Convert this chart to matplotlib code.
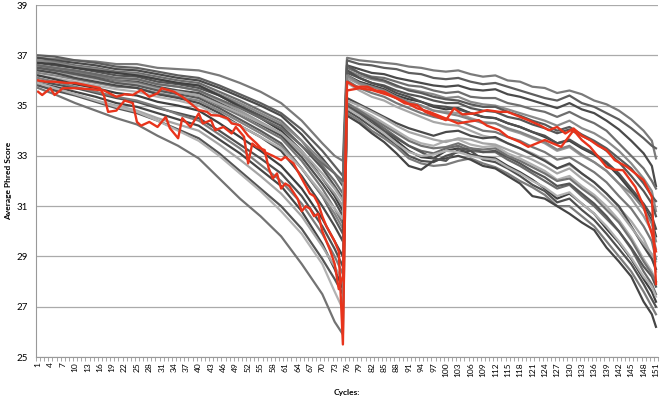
import matplotlib
matplotlib.use("Agg")
import matplotlib.pyplot as plt
import numpy as np

READ1_CYCLES = [1, 5, 10, 15, 20, 25, 30, 35, 40, 45, 50, 55, 60, 65, 70, 73, 75]
READ2_CYCLES = [76, 79, 82, 85, 88, 91, 94, 97, 100, 103, 106, 109, 112, 115, 118, 121, 124, 127,
                130, 133, 136, 139, 142, 145, 148, 150, 151]

# Average Phred score per run, read 1 (cycles 1-75)
GREY_READ1 = [
    [36.9, 36.85, 36.8, 36.75, 36.65, 36.65, 36.5, 36.45, 36.4, 36.2, 35.9, 35.55, 35.1, 34.4, 33.5, 33.0, 32.8],
    [37.0, 36.95, 36.8, 36.7, 36.55, 36.5, 36.35, 36.2, 36.1, 35.8, 35.45, 35.1, 34.7, 34.05, 33.2, 32.6, 32.2],
    [36.9, 36.8, 36.7, 36.6, 36.45, 36.4, 36.25, 36.1, 36.0, 35.7, 35.35, 35.0, 34.6, 33.85, 32.9, 32.3, 31.8],
    [36.8, 36.75, 36.6, 36.5, 36.35, 36.3, 36.15, 36.0, 35.9, 35.55, 35.2, 34.8, 34.4, 33.6, 32.6, 32.0, 31.5],
    [36.8, 36.7, 36.55, 36.45, 36.3, 36.25, 36.05, 35.9, 35.8, 35.45, 35.1, 34.7, 34.3, 33.6, 32.8, 32.3, 31.9],
    [36.7, 36.6, 36.5, 36.35, 36.2, 36.15, 35.95, 35.85, 35.7, 35.4, 35.0, 34.6, 34.2, 33.4, 32.5, 31.8, 31.3],
    [36.7, 36.65, 36.5, 36.4, 36.3, 36.2, 36.05, 35.9, 35.8, 35.4, 34.95, 34.5, 34.0, 33.2, 32.1, 31.4, 30.8],
    [36.6, 36.5, 36.4, 36.25, 36.1, 36.05, 35.85, 35.75, 35.6, 35.2, 34.8, 34.35, 33.9, 33.1, 32.1, 31.5, 31.0],
    [36.5, 36.4, 36.3, 36.15, 36.0, 35.95, 35.75, 35.6, 35.5, 35.1, 34.7, 34.25, 33.8, 32.95, 31.9, 31.2, 30.6],
    [36.6, 36.5, 36.35, 36.2, 36.0, 35.9, 35.7, 35.55, 35.4, 35.0, 34.6, 34.15, 33.7, 32.8, 31.7, 30.9, 30.3],
    [36.4, 36.3, 36.2, 36.05, 35.9, 35.85, 35.65, 35.55, 35.4, 35.05, 34.7, 34.3, 33.9, 33.2, 32.3, 31.7, 31.2],
    [36.5, 36.4, 36.25, 36.1, 35.9, 35.8, 35.6, 35.45, 35.3, 34.9, 34.45, 34.0, 33.5, 32.5, 31.4, 30.5, 29.9],
    [36.3, 36.2, 36.05, 35.9, 35.75, 35.7, 35.5, 35.35, 35.2, 34.8, 34.35, 33.9, 33.4, 32.5, 31.4, 30.7, 30.1],
    [36.4, 36.3, 36.1, 35.95, 35.8, 35.7, 35.45, 35.3, 35.1, 34.7, 34.2, 33.75, 33.2, 32.2, 31.0, 30.2, 29.6],
    [36.2, 36.1, 35.95, 35.8, 35.65, 35.55, 35.35, 35.2, 35.0, 34.6, 34.2, 33.75, 33.3, 32.5, 31.5, 30.9, 30.5],
    [36.6, 36.5, 36.4, 36.25, 36.1, 36.05, 35.85, 35.75, 35.6, 35.25, 34.9, 34.5, 34.1, 33.4, 32.7, 32.3, 32.0],
    [36.2, 36.05, 35.85, 35.7, 35.5, 35.4, 35.15, 35.0, 34.8, 34.3, 33.75, 33.2, 32.6, 31.7, 30.5, 29.6, 29.0],
    [36.0, 35.85, 35.7, 35.5, 35.3, 35.15, 34.9, 34.7, 34.5, 34.0, 33.45, 32.9, 32.3, 31.4, 30.2, 29.3, 28.6],
    [36.1, 35.95, 35.75, 35.55, 35.35, 35.2, 34.95, 34.65, 34.4, 33.85, 33.3, 32.65, 32.0, 31.1, 29.9, 29.0, 28.3],
    [35.9, 35.75, 35.55, 35.35, 35.1, 34.95, 34.7, 34.45, 34.2, 33.65, 33.1, 32.45, 31.8, 30.8, 29.5, 28.5, 27.7],
    [35.8, 35.65, 35.45, 35.2, 35.0, 34.8, 34.5, 34.25, 34.0, 33.45, 32.85, 32.2, 31.5, 30.6, 29.4, 28.6, 28.0],
    [35.8, 35.6, 35.4, 35.15, 34.9, 34.7, 34.4, 34.05, 33.7, 33.1, 32.4, 31.7, 31.0, 30.1, 28.9, 28.1, 27.5],
    [35.9, 35.7, 35.45, 35.2, 34.95, 34.75, 34.4, 34.0, 33.6, 33.0, 32.3, 31.6, 30.8, 29.9, 28.7, 27.6, 26.9],
    [35.7, 35.45, 35.1, 34.8, 34.5, 34.25, 33.8, 33.4, 32.9, 32.1, 31.3, 30.6, 29.8, 28.7, 27.5, 26.4, 25.9],
]

# Same runs, read 2 (cycles 76-151)
GREY_READ2 = [
    [36.9, 36.8, 36.75, 36.7, 36.65, 36.55, 36.5, 36.4, 36.35, 36.4, 36.25, 36.15, 36.2, 36.0, 35.95, 35.75, 35.7, 35.5, 35.6, 35.45, 35.2, 35.05, 34.8, 34.45, 34.0, 33.6, 32.9],
    [36.8, 36.65, 36.6, 36.5, 36.45, 36.3, 36.25, 36.1, 36.05, 36.1, 35.95, 35.85, 35.9, 35.75, 35.6, 35.45, 35.3, 35.2, 35.4, 35.1, 34.95, 34.7, 34.45, 34.1, 33.7, 33.4, 33.3],
    [36.6, 36.45, 36.3, 36.25, 36.1, 36.0, 35.9, 35.8, 35.75, 35.8, 35.65, 35.6, 35.65, 35.45, 35.35, 35.2, 35.05, 34.9, 35.1, 34.85, 34.7, 34.4, 34.05, 33.6, 33.1, 32.6, 31.8],
    [36.5, 36.3, 36.15, 36.1, 35.95, 35.8, 35.75, 35.6, 35.5, 35.55, 35.35, 35.3, 35.3, 35.1, 35.0, 34.85, 34.75, 34.55, 34.75, 34.5, 34.3, 34.0, 33.5, 33.0, 32.5, 32.0, 31.7],
    [36.4, 36.2, 36.05, 35.95, 35.75, 35.65, 35.55, 35.45, 35.3, 35.35, 35.15, 35.05, 35.0, 34.85, 34.7, 34.55, 34.4, 34.2, 34.4, 34.1, 33.9, 33.6, 33.2, 32.7, 32.1, 31.6, 30.8],
    [36.3, 36.1, 35.9, 35.8, 35.6, 35.45, 35.35, 35.2, 35.1, 35.1, 34.9, 34.8, 34.75, 34.55, 34.45, 34.25, 34.1, 33.9, 34.05, 33.8, 33.55, 33.2, 32.75, 32.2, 31.6, 31.1, 30.6],
    [36.2, 35.95, 35.8, 35.65, 35.4, 35.25, 35.15, 34.95, 34.85, 34.9, 34.7, 34.55, 34.5, 34.3, 34.15, 33.95, 33.75, 33.5, 33.6, 33.3, 33.05, 32.7, 32.2, 31.6, 31.0, 30.4, 29.8],
    [36.1, 35.85, 35.65, 35.5, 35.3, 35.15, 35.0, 34.8, 34.75, 34.7, 34.5, 34.35, 34.3, 34.05, 33.9, 33.7, 33.5, 33.2, 33.35, 33.0, 32.75, 32.4, 31.9, 31.3, 30.6, 30.0, 29.3],
    [36.4, 36.1, 35.9, 35.75, 35.5, 35.35, 35.15, 35.0, 34.95, 34.85, 34.7, 34.55, 34.5, 34.3, 34.15, 33.95, 33.8, 33.5, 33.65, 33.35, 33.1, 32.75, 32.3, 31.7, 31.1, 30.6, 30.1],
    [36.0, 35.7, 35.5, 35.35, 35.1, 34.9, 34.7, 34.55, 34.45, 34.4, 34.2, 34.0, 33.95, 33.75, 33.6, 33.35, 33.15, 32.85, 32.95, 32.65, 32.35, 31.95, 31.4, 30.9, 30.2, 29.6, 28.9],
    [35.9, 35.6, 35.35, 35.2, 34.95, 34.75, 34.55, 34.35, 34.25, 34.2, 34.0, 33.8, 33.7, 33.5, 33.3, 33.1, 32.85, 32.5, 32.65, 32.3, 31.95, 31.5, 30.95, 30.4, 29.7, 29.0, 28.4],
    [36.6, 36.3, 36.1, 36.0, 35.8, 35.6, 35.5, 35.35, 35.25, 35.2, 35.05, 34.95, 34.95, 34.75, 34.6, 34.4, 34.25, 34.0, 34.15, 33.85, 33.6, 33.3, 32.9, 32.5, 31.9, 31.4, 31.2],
    [36.2, 35.9, 35.75, 35.6, 35.35, 35.15, 35.0, 34.8, 34.7, 34.6, 34.45, 34.3, 34.3, 34.1, 33.95, 33.75, 33.55, 33.25, 33.4, 33.05, 32.75, 32.4, 31.9, 31.5, 30.9, 30.3, 29.6],
    [35.3, 35.05, 34.8, 34.55, 34.3, 34.1, 33.95, 33.8, 33.95, 34.0, 33.8, 33.7, 33.75, 33.5, 33.3, 33.05, 32.8, 32.5, 32.7, 32.3, 31.95, 31.5, 31.0, 30.2, 29.4, 28.9, 28.5],
    [35.1, 34.85, 34.6, 34.3, 34.0, 33.7, 33.5, 33.4, 33.6, 33.65, 33.45, 33.35, 33.4, 33.1, 32.9, 32.65, 32.4, 32.05, 32.2, 31.8, 31.45, 31.0, 30.45, 29.75, 28.9, 28.4, 28.0],
    [35.0, 34.75, 34.45, 34.1, 33.75, 33.4, 33.2, 33.1, 33.3, 33.4, 33.2, 33.15, 33.15, 32.85, 32.6, 32.3, 32.0, 31.7, 31.85, 31.4, 31.0, 30.5, 30.0, 29.3, 28.4, 27.9, 27.5],
    [34.9, 34.65, 34.3, 33.95, 33.6, 33.2, 32.95, 32.9, 33.2, 33.3, 33.05, 32.95, 32.9, 32.6, 32.35, 32.05, 31.7, 31.3, 31.5, 31.1, 30.7, 30.1, 29.55, 28.9, 28.1, 27.6, 27.2],
    [34.8, 34.5, 34.15, 33.8, 33.45, 33.0, 32.8, 32.75, 33.0, 33.15, 33.2, 32.85, 32.75, 32.5, 32.2, 31.85, 31.6, 31.15, 31.3, 30.85, 30.45, 29.9, 29.3, 28.7, 27.9, 27.3, 27.0],
    [34.7, 34.4, 34.0, 33.7, 33.35, 32.9, 32.7, 32.6, 32.65, 32.8, 32.9, 32.7, 32.55, 32.3, 32.0, 31.75, 31.45, 31.0, 31.0, 30.6, 30.2, 29.6, 29.0, 28.4, 27.6, 27.0, 26.7],
    [34.6, 34.3, 33.9, 33.55, 33.1, 32.6, 32.45, 32.8, 32.9, 33.0, 32.85, 32.6, 32.5, 32.2, 31.9, 31.4, 31.3, 31.0, 30.7, 30.35, 30.05, 29.35, 28.8, 28.2, 27.2, 26.7, 26.2],
    [35.2, 35.0, 34.75, 34.5, 34.2, 33.95, 33.8, 33.65, 33.55, 33.7, 33.65, 33.5, 33.45, 33.25, 33.05, 32.85, 32.6, 32.3, 32.5, 32.1, 31.75, 31.3, 30.8, 30.15, 29.5, 29.1, 28.8],
    [35.0, 34.7, 34.4, 34.0, 33.7, 33.4, 33.15, 32.9, 32.8, 33.25, 33.3, 33.15, 33.2, 32.95, 32.7, 32.4, 32.15, 31.8, 31.9, 31.5, 31.1, 30.6, 30.0, 29.35, 28.6, 28.2, 27.8],
    [34.9, 34.6, 34.25, 33.9, 33.5, 33.15, 33.0, 33.05, 33.2, 33.15, 33.0, 32.9, 32.85, 32.55, 32.3, 32.0, 31.75, 31.4, 31.55, 31.1, 30.7, 30.2, 29.6, 28.95, 28.2, 27.8, 27.4],
    [35.1, 34.8, 34.5, 34.2, 33.9, 33.6, 33.4, 33.3, 33.35, 33.5, 33.3, 33.25, 33.3, 33.0, 32.8, 32.55, 32.3, 32.0, 32.1, 31.7, 31.35, 30.85, 30.35, 29.65, 28.8, 28.3, 28.0],
]

GREY_SHADES = [
    "#7a7a7a", "#5e5e5e", "#4a4a4a", "#6e6e6e", "#8a8a8a", "#555555",
    "#404040", "#9a9a9a", "#4f4f4f", "#777777", "#a8a8a8", "#5a5a5a",
    "#858585", "#4a4a4a", "#b0b0b0", "#6a6a6a", "#3f3f3f", "#505050",
    "#7c7c7c", "#454545", "#a5a5a5", "#555555", "#b2b2b2", "#737373",
]

# The two highlighted (red) runs, read more densely
RED1_CYCLES = [1, 3, 5, 8, 10, 13, 16, 17, 18, 20, 22, 24, 25, 26, 28, 30, 32, 33, 35, 36,
               38, 40, 41, 43, 44, 46, 48, 49, 51, 52, 53, 54, 56, 57, 58, 59, 60, 61, 62, 64,
               65, 66, 67, 68, 69, 70, 71, 72, 73, 74, 75,
               76, 79, 82, 86, 88, 90, 93, 96, 99, 101, 103, 105, 108, 110, 113, 115, 118, 120, 124, 128,
               131, 133, 135, 137, 139, 141, 143, 146, 148, 149, 150, 151]
RED1_SCORES = [36.0, 35.95, 35.95, 35.9, 35.9, 35.8, 35.7, 35.4, 34.75, 34.8, 35.2, 35.1, 34.35, 34.2, 34.35, 34.15, 34.55, 34.1, 33.7, 34.5,
               34.15, 34.69, 34.29, 34.42, 34.02, 34.15, 33.89, 34.15, 33.76, 32.7, 33.49, 33.36, 33.23, 32.5, 32.1, 32.3, 31.7, 31.9, 31.8, 31.3,
               30.8, 31.0, 30.9, 30.6, 30.7, 30.0, 29.6, 29.2, 28.7, 27.7, 28.2,
               35.6, 35.69, 35.62, 35.42, 35.3, 35.15, 34.89, 34.75, 34.55, 34.42, 34.29, 34.35, 34.42, 34.2, 34.02, 33.76, 33.55, 33.36, 33.63, 33.36,
               34.02, 33.63, 33.36, 32.96, 32.56, 32.45, 32.43, 31.76, 31.0, 30.4, 29.9, 29.2]

RED2_CYCLES = [1, 2, 4, 5, 7, 10, 14, 17, 20, 22, 24, 26, 28, 30, 31, 34, 36, 38, 40, 42,
               43, 45, 47, 48, 50, 52, 54, 56, 58, 60, 61, 63, 65, 66, 67, 68, 69, 70, 71, 72,
               73, 74, 75,
               76, 78, 81, 83, 85, 88, 90, 93, 95, 98, 100, 102, 104, 107, 110, 113, 115, 118, 120, 123,
               125, 127, 129, 131, 133, 135, 137, 139, 141, 144, 146, 148, 150, 151]
RED2_SCORES = [35.55, 35.42, 35.69, 35.42, 35.69, 35.69, 35.65, 35.6, 35.35, 35.45, 35.42, 35.62, 35.35, 35.49, 35.69, 35.55, 35.35, 35.09, 34.82, 34.75,
               34.62, 34.6, 34.49, 34.29, 34.22, 33.8, 33.5, 33.15, 33.0, 32.83, 32.96, 32.7, 32.1, 31.8, 31.5, 31.4, 31.1, 30.6, 30.2, 29.9,
               29.6, 29.2, 25.5,
               35.95, 35.75, 35.75, 35.6, 35.55, 35.29, 35.09, 35.02, 34.75, 34.55, 34.42, 34.89, 34.65, 34.69, 34.82, 34.75, 34.75, 34.55, 34.42, 34.2,
               34.02, 34.15, 33.89, 34.09, 33.8, 33.63, 33.4, 33.23, 32.83, 32.56, 32.3, 32.03, 31.37, 27.9]

RED = "#e8341c"

plt.rcParams['font.family'] = ['Lato', 'DejaVu Sans']

fig = plt.figure(figsize=(6.62, 4.01), dpi=100)
ax = fig.add_axes([0.0544, 0.1097, 0.9396, 0.8778])

cycles = READ1_CYCLES + READ2_CYCLES
for r1, r2, shade in zip(GREY_READ1, GREY_READ2, GREY_SHADES):
    ax.plot(cycles, r1 + r2, color=shade, linewidth=1.6, solid_joinstyle='round')

ax.plot(RED2_CYCLES, RED2_SCORES, color=RED, linewidth=1.7, solid_joinstyle='round')
ax.plot(RED1_CYCLES, RED1_SCORES, color=RED, linewidth=1.7, solid_joinstyle='round')

# axes look (Excel style)
ax.set_xlim(0.5, 151.5)
ax.set_ylim(25, 39)
ax.set_yticks(range(25, 40, 2))
ax.yaxis.grid(True, color='#aaaaaa', linewidth=0.9)
ax.set_axisbelow(True)
for side in ['top', 'right']:
    ax.spines[side].set_visible(False)
ax.spines['left'].set_color('#999999')
ax.spines['bottom'].set_color('#999999')

ax.set_xticks(range(1, 152, 3))
ax.set_xticklabels([str(c) for c in range(1, 152, 3)], rotation=90, fontsize=6)
ax.set_xticks(np.arange(0.5, 152, 1), minor=True)
ax.tick_params(axis='x', which='major', length=0, pad=4)
ax.tick_params(axis='x', which='minor', length=3, color='#999999')
ax.tick_params(axis='y', length=0, labelsize=7, pad=6)

fig.text(0.013, 0.55, "Average Phred Score", rotation=90, fontsize=6,
         fontweight='bold', ha='center', va='center')
fig.text(0.524, 0.022, "Cycles:", fontsize=6, fontweight='bold',
         ha='center', va='center')

fig.savefig("out.png", dpi=100)
